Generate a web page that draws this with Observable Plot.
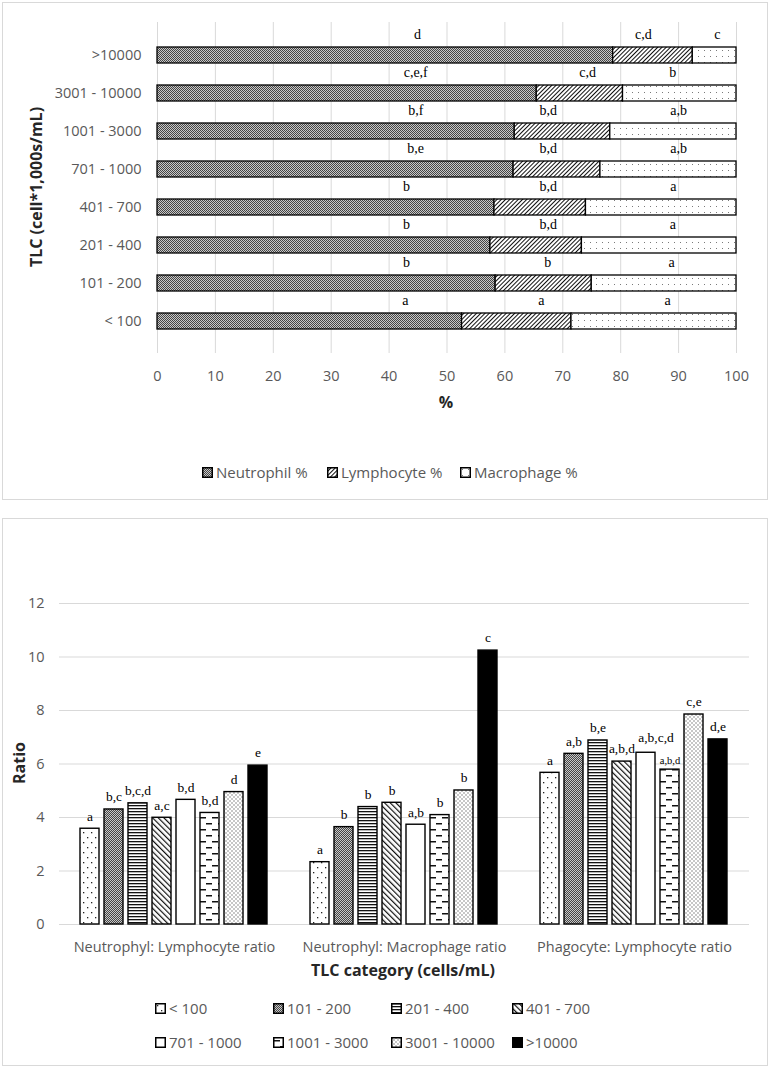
<!DOCTYPE html>
<html>
<head>
<meta charset="utf-8">
<script src="https://cdn.jsdelivr.net/npm/d3@7"></script>
<script src="https://cdn.jsdelivr.net/npm/@observablehq/plot@0.6"></script>
<style>
  html, body { margin: 0; padding: 0; background: #fff; }
  body { width: 771px; height: 1069px; position: relative; overflow: hidden; font-family: "Open Sans", sans-serif; }
  .box { position: absolute; border: 1px solid #d9d9d9; box-sizing: border-box; }
  .abs { position: absolute; }
  .ctr { position: absolute; transform: translate(-50%, -50%); white-space: nowrap; }
  .title { font-weight: bold; font-size: 16px; color: #262626; }
  .rot { transform: translate(-50%, -50%) rotate(-90deg); }
  .leg { position: absolute; transform: translateY(-50%); display: flex; align-items: center; gap: 3px; font-size: 15px; color: #595959; white-space: nowrap; }
  .leg svg { display: block; }
</style>
</head>
<body>
<svg width="0" height="0" style="position:absolute">
  <defs>
    <pattern id="pChecker" width="2" height="2" patternUnits="userSpaceOnUse">
      <rect width="2" height="2" fill="#c8c8c8"/>
      <rect x="0" y="0" width="1" height="1" fill="#454545"/>
      <rect x="1" y="1" width="1" height="1" fill="#454545"/>
    </pattern>
    <pattern id="pFwd" width="3" height="3" patternUnits="userSpaceOnUse" patternTransform="rotate(45)">
      <rect width="3" height="3" fill="#fff"/>
      <rect x="0" y="0" width="1" height="3" fill="#111"/>
    </pattern>
    <pattern id="pSparse" width="6" height="6" patternUnits="userSpaceOnUse">
      <rect width="6" height="6" fill="#fff"/>
      <rect x="2" y="2" width="1" height="1" fill="#7a7a7a"/>
    </pattern>
    <pattern id="pDots1" width="8" height="10" patternUnits="userSpaceOnUse">
      <rect width="8" height="10" fill="#fff"/>
      <rect x="2" y="2" width="1.3" height="1.3" fill="#222"/>
      <rect x="6" y="7" width="1.3" height="1.3" fill="#222"/>
    </pattern>
    <pattern id="pHoriz" width="4" height="3" patternUnits="userSpaceOnUse">
      <rect width="4" height="3" fill="#fff"/>
      <rect x="0" y="0" width="4" height="1.3" fill="#111"/>
    </pattern>
    <pattern id="pBack" width="4" height="4" patternUnits="userSpaceOnUse" patternTransform="rotate(-45)">
      <rect width="4" height="4" fill="#fff"/>
      <rect x="0" y="0" width="1.2" height="4" fill="#111"/>
    </pattern>
    <pattern id="pDash" width="12" height="12" patternUnits="userSpaceOnUse">
      <rect width="12" height="12" fill="#fff"/>
      <rect x="1" y="3" width="6" height="1.5" fill="#111"/>
      <rect x="7" y="9" width="6" height="1.5" fill="#111"/>
      <rect x="-5" y="9" width="6" height="1.5" fill="#111"/>
    </pattern>
    <pattern id="pDots2" width="4" height="4" patternUnits="userSpaceOnUse">
      <rect width="4" height="4" fill="#fff"/>
      <rect x="0.5" y="0.5" width="1" height="1" fill="#222"/>
      <rect x="2.5" y="2.5" width="1" height="1" fill="#222"/>
    </pattern>
  </defs>
</svg>

<div class="box" style="left:2px;top:2px;width:766px;height:498px"></div>
<div class="box" style="left:2px;top:518px;width:766px;height:548px"></div>
<div id="topChart" class="abs" style="left:0;top:0"></div>
<div id="bottomChart" class="abs" style="left:0;top:520px"></div>

<script>
// ---------- DATA ----------
const tlcCategories = ["< 100", "101 - 200", "201 - 400", "401 - 700", "701 - 1000", "1001 - 3000", "3001 - 10000", ">10000"];
const cellSeries = ["Neutrophil %", "Lymphocyte %", "Macrophage %"];

const neutrophilPct = [52.6, 58.4, 57.5, 58.2, 61.5, 61.7, 65.5, 78.7];
const lymphocytePct = [18.9, 16.6, 15.8, 15.8, 15.0, 16.5, 14.9, 13.75];
const macrophagePct = [28.5, 25.0, 26.7, 26.0, 23.5, 21.8, 19.6, 7.55];

const neutrophilLetters = ["a", "b", "b", "b", "b,e", "b,f", "c,e,f", "d"];
const lymphocyteLetters = ["a", "b", "b,d", "b,d", "b,d", "b,d", "c,d", "c,d"];
const macrophageLetters = ["a", "a", "a", "a", "a,b", "a,b", "b", "c"];
// where each letter group sits along the % axis
const neutrophilLetterAt = [42.8, 43.0, 43.0, 43.0, 44.6, 44.6, 44.6, 44.9];
const lymphocyteLetterAt = [66.3, 67.4, 67.5, 67.5, 67.5, 67.5, 74.3, 83.9];
const macrophageLetterAt = [88.1, 88.8, 89.0, 89.1, 90.0, 90.0, 89.0, 96.7];

const xTicksPct = [0, 10, 20, 30, 40, 50, 60, 70, 80, 90, 100];

const ratioNames = ["Neutrophyl: Lymphocyte ratio", "Neutrophyl: Macrophage ratio", "Phagocyte: Lymphocyte ratio"];
const nlRatio = [3.58, 4.30, 4.53, 3.99, 4.66, 4.17, 4.95, 5.94];
const nmRatio = [2.33, 3.64, 4.39, 4.55, 3.73, 4.09, 5.01, 10.24];
const plRatio = [5.67, 6.38, 6.88, 6.09, 6.42, 5.79, 7.85, 6.92];
const nlLetters = ["a", "b,c", "b,c,d", "a,c", "b,d", "b,d", "d", "e"];
const nmLetters = ["a", "b", "b", "b", "a,b", "b", "b", "c"];
const plLetters = ["a", "a,b", "b,e", "a,b,d", "a,b,c,d", "a,b,d", "c,e", "d,e"];
const yTicksRatio = [0, 2, 4, 6, 8, 10, 12];

// ---------- STYLES ----------
const cellFills = ["url(#pChecker)", "url(#pFwd)", "url(#pSparse)"];
const tlcFills = ["url(#pDots1)", "url(#pChecker)", "url(#pHoriz)", "url(#pBack)", "#ffffff", "url(#pDash)", "url(#pDots2)", "#000000"];
const tickFont = {fontFamily: "'Open Sans', sans-serif", fontSize: "14.5px", color: "#595959", background: "transparent", overflow: "visible"};
const letterFont = "'Liberation Serif', 'Times New Roman', serif";

// ---------- TOP CHART ----------
const seriesValues = [neutrophilPct, lymphocytePct, macrophagePct];
const seriesLetters = [neutrophilLetters, lymphocyteLetters, macrophageLetters];
const seriesLetterAt = [neutrophilLetterAt, lymphocyteLetterAt, macrophageLetterAt];
const topRows = [];
tlcCategories.forEach((cat, i) => {
  cellSeries.forEach((s, k) => {
    topRows.push({cat, series: s, value: seriesValues[k][i], letter: seriesLetters[k][i], at: seriesLetterAt[k][i], fill: cellFills[k]});
  });
});

const topPlot = Plot.plot({
  width: 771,
  height: 410,
  marginLeft: 157,
  marginRight: 35,
  marginTop: 22,
  marginBottom: 57,
  style: tickFont,
  x: {domain: [0, 100], ticks: xTicksPct, label: null, tickSize: 0, tickPadding: 17},
  y: {domain: tlcCategories.slice().reverse(), padding: 0.59, label: null, tickSize: 0, tickPadding: 16},
  color: {type: "identity"},
  marks: [
    Plot.gridX(xTicksPct, {stroke: "#d9d9d9", strokeOpacity: 1, strokeWidth: 1}),
    Plot.barX(topRows, Plot.stackX({x: "value", y: "cat", z: "series", fill: "fill", stroke: "#000", strokeWidth: 1.3})),
    Plot.text(topRows, {x: "at", y: "cat", text: "letter", dy: -21, fontFamily: letterFont, fontSize: 14, fill: "#000"})
  ]
});
document.getElementById("topChart").appendChild(topPlot);

// ---------- BOTTOM CHART ----------
const ratioValues = [nlRatio, nmRatio, plRatio];
const ratioLetters = [nlLetters, nmLetters, plLetters];
const bottomRows = [];
ratioNames.forEach((r, j) => {
  tlcCategories.forEach((cat, i) => {
    bottomRows.push({ratio: r, cat, value: ratioValues[j][i], letter: ratioLetters[j][i], fill: tlcFills[i]});
  });
});
// two crowded labels in the last group are nudged / shrunk as in the original
const isNudged = d => d.ratio === ratioNames[2] && d.cat === tlcCategories[4];
const isSmall = d => d.ratio === ratioNames[2] && d.cat === tlcCategories[5];

const bottomPlot = Plot.plot({
  width: 771,
  height: 440,
  marginLeft: 58,
  marginRight: 21,
  marginTop: 83,
  marginBottom: 36,
  style: tickFont,
  fx: {domain: ratioNames, padding: 0, label: null, axis: "bottom", tickSize: 0, tickPadding: 17},
  x: {domain: tlcCategories, paddingInner: 0.2, paddingOuter: 0.81, axis: null},
  y: {domain: [0, 12], ticks: yTicksRatio, label: null, tickSize: 0, tickPadding: 15},
  color: {type: "identity"},
  marks: [
    Plot.gridY(yTicksRatio, {stroke: "#d9d9d9", strokeOpacity: 1, strokeWidth: 1}),
    Plot.barY(bottomRows, {fx: "ratio", x: "cat", y: "value", fill: "fill", stroke: "#000", strokeWidth: 1.4}),
    Plot.text(bottomRows, {filter: d => !isNudged(d) && !isSmall(d), fx: "ratio", x: "cat", y: "value", text: "letter", dy: -12.5, fontFamily: letterFont, fontSize: 13.5, fill: "#000"}),
    Plot.text(bottomRows, {filter: isNudged, fx: "ratio", x: "cat", y: "value", text: "letter", dx: 10, dy: -15.5, fontFamily: letterFont, fontSize: 13.5, fill: "#000"}),
    Plot.text(bottomRows, {filter: isSmall, fx: "ratio", x: "cat", y: "value", text: "letter", dy: -9, fontFamily: letterFont, fontSize: 10.5, fill: "#000"})
  ]
});
document.getElementById("bottomChart").appendChild(bottomPlot);

// ---------- TITLES ----------
function addText(txt, x, y, cls) {
  const d = document.createElement("div");
  d.className = "ctr " + cls;
  d.style.left = x + "px";
  d.style.top = y + "px";
  d.textContent = txt;
  document.body.appendChild(d);
}
addText("TLC (cell*1,000s/mL)", 36, 187, "title rot");
addText("%", 446, 402, "title");
addText("Ratio", 18.5, 763, "title rot");
addText("TLC category (cells/mL)", 403, 970, "title");

// ---------- LEGENDS ----------
function addLegend(label, fill, x, y) {
  const d = document.createElement("div");
  d.className = "leg";
  d.style.left = x + "px";
  d.style.top = y + "px";
  d.innerHTML = `<svg width="11" height="11"><rect x="0.75" y="0.75" width="9.5" height="9.5" fill="${fill}" stroke="#000" stroke-width="1.5"/></svg><span>${label}</span>`;
  document.body.appendChild(d);
}
const topLegendX = [202, 327, 460];
cellSeries.forEach((s, k) => addLegend(s, cellFills[k], topLegendX[k], 472));
const bottomLegendX = [155, 273, 391, 512];
const bottomLegendY = [1008, 1042];
tlcCategories.forEach((c, i) => addLegend(c, tlcFills[i], bottomLegendX[i % 4], bottomLegendY[Math.floor(i / 4)]));
</script>
</body>
</html>
